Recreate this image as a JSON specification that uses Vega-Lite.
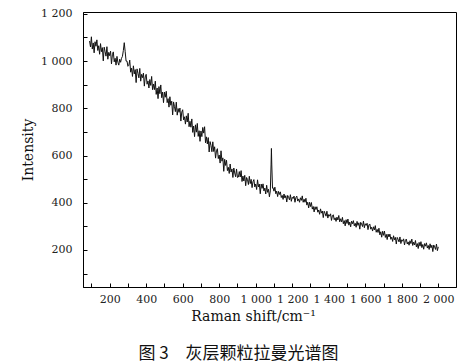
{
"$schema":"https://vega.github.io/schema/vega-lite/v6.json",
"width":373,"height":275,
"autosize":{"type":"none"},
"padding":{"left":83,"top":12,"right":12,"bottom":76},
"background":"white",
"title":{"text":"图 3　灰层颗粒拉曼光谱图","orient":"bottom","anchor":"middle","dx":-31,"offset":23,"font":"Noto Sans CJK SC","fontSize":17,"fontWeight":"normal","color":"#111"},
"data":{"values":[
{"shift":90,"intensity":1085},{"shift":95,"intensity":1060},{"shift":100,"intensity":1103},{"shift":105,"intensity":1051},{"shift":110,"intensity":1077},{"shift":115,"intensity":1035},{"shift":120,"intensity":1082},{"shift":125,"intensity":1063},{"shift":130,"intensity":1090},{"shift":135,"intensity":1045},{"shift":140,"intensity":1065},{"shift":145,"intensity":1029},{"shift":150,"intensity":1074},{"shift":155,"intensity":1040},{"shift":160,"intensity":1057},{"shift":165,"intensity":1001},{"shift":170,"intensity":1059},{"shift":175,"intensity":1040},{"shift":180,"intensity":1021},{"shift":185,"intensity":1061},{"shift":190,"intensity":1008},{"shift":195,"intensity":1037},{"shift":200,"intensity":1023},{"shift":205,"intensity":1042},{"shift":210,"intensity":988},{"shift":215,"intensity":1027},{"shift":220,"intensity":1039},{"shift":225,"intensity":997},{"shift":230,"intensity":1012},{"shift":235,"intensity":983},{"shift":240,"intensity":1020},{"shift":245,"intensity":995},{"shift":250,"intensity":983},{"shift":255,"intensity":1008},{"shift":260,"intensity":995},{"shift":265,"intensity":1012},{"shift":270,"intensity":1020},{"shift":275,"intensity":1045},{"shift":280,"intensity":1078},{"shift":285,"intensity":1040},{"shift":290,"intensity":1000},{"shift":295,"intensity":1000},{"shift":300,"intensity":978},
{"shift":305,"intensity":982},{"shift":310,"intensity":1004},{"shift":315,"intensity":953},{"shift":320,"intensity":970},{"shift":325,"intensity":935},{"shift":330,"intensity":980},{"shift":335,"intensity":946},{"shift":340,"intensity":964},{"shift":345,"intensity":909},{"shift":350,"intensity":967},{"shift":355,"intensity":948},{"shift":360,"intensity":929},{"shift":365,"intensity":969},{"shift":370,"intensity":915},{"shift":375,"intensity":944},{"shift":380,"intensity":930},{"shift":385,"intensity":949},{"shift":390,"intensity":894},{"shift":395,"intensity":933},{"shift":400,"intensity":944},{"shift":405,"intensity":902},{"shift":410,"intensity":916},{"shift":415,"intensity":886},{"shift":420,"intensity":922},{"shift":425,"intensity":897},{"shift":430,"intensity":935},{"shift":435,"intensity":879},{"shift":440,"intensity":903},{"shift":445,"intensity":879},{"shift":450,"intensity":915},{"shift":455,"intensity":859},{"shift":460,"intensity":886},{"shift":465,"intensity":841},{"shift":470,"intensity":892},{"shift":475,"intensity":862},{"shift":480,"intensity":899},{"shift":485,"intensity":845},{"shift":490,"intensity":869},{"shift":495,"intensity":824},{"shift":500,"intensity":869},
{"shift":505,"intensity":847},{"shift":510,"intensity":872},{"shift":515,"intensity":824},{"shift":520,"intensity":841},{"shift":525,"intensity":805},{"shift":530,"intensity":849},{"shift":535,"intensity":813},{"shift":540,"intensity":830},{"shift":545,"intensity":772},{"shift":550,"intensity":827},{"shift":555,"intensity":807},{"shift":560,"intensity":786},{"shift":565,"intensity":826},{"shift":570,"intensity":771},{"shift":575,"intensity":799},{"shift":580,"intensity":783},{"shift":585,"intensity":801},{"shift":590,"intensity":746},{"shift":595,"intensity":784},{"shift":600,"intensity":794},{"shift":605,"intensity":751},{"shift":610,"intensity":764},{"shift":615,"intensity":733},{"shift":620,"intensity":768},{"shift":625,"intensity":742},{"shift":630,"intensity":779},{"shift":635,"intensity":722},{"shift":640,"intensity":745},{"shift":645,"intensity":720},{"shift":650,"intensity":755},{"shift":655,"intensity":698},{"shift":660,"intensity":725},{"shift":665,"intensity":680},{"shift":670,"intensity":730},{"shift":675,"intensity":699},{"shift":680,"intensity":736},{"shift":685,"intensity":681},{"shift":690,"intensity":705},{"shift":695,"intensity":660},{"shift":700,"intensity":704},
{"shift":705,"intensity":680},{"shift":710,"intensity":719},{"shift":715,"intensity":695},{"shift":720,"intensity":722},{"shift":725,"intensity":654},{"shift":730,"intensity":679},{"shift":735,"intensity":649},{"shift":740,"intensity":676},{"shift":745,"intensity":615},{"shift":750,"intensity":659},{"shift":755,"intensity":643},{"shift":760,"intensity":616},{"shift":765,"intensity":658},{"shift":770,"intensity":617},{"shift":775,"intensity":637},{"shift":780,"intensity":589},{"shift":785,"intensity":620},{"shift":790,"intensity":629},{"shift":795,"intensity":587},{"shift":800,"intensity":602},{"shift":805,"intensity":568},{"shift":810,"intensity":620},{"shift":815,"intensity":576},{"shift":820,"intensity":590},{"shift":825,"intensity":533},{"shift":830,"intensity":584},{"shift":835,"intensity":558},{"shift":840,"intensity":580},{"shift":845,"intensity":536},{"shift":850,"intensity":550},{"shift":855,"intensity":524},{"shift":860,"intensity":564},{"shift":865,"intensity":530},{"shift":870,"intensity":543},{"shift":875,"intensity":507},{"shift":880,"intensity":547},{"shift":885,"intensity":526},{"shift":890,"intensity":510},{"shift":895,"intensity":543},{"shift":900,"intensity":507},
{"shift":905,"intensity":509},{"shift":910,"intensity":532},{"shift":915,"intensity":509},{"shift":920,"intensity":536},{"shift":925,"intensity":490},{"shift":930,"intensity":513},{"shift":935,"intensity":492},{"shift":940,"intensity":516},{"shift":945,"intensity":472},{"shift":950,"intensity":507},{"shift":955,"intensity":498},{"shift":960,"intensity":477},{"shift":965,"intensity":512},{"shift":970,"intensity":481},{"shift":975,"intensity":499},{"shift":980,"intensity":464},{"shift":985,"intensity":489},{"shift":990,"intensity":498},{"shift":995,"intensity":467},{"shift":1000,"intensity":479},{"shift":1005,"intensity":456},{"shift":1010,"intensity":497},{"shift":1015,"intensity":467},{"shift":1020,"intensity":479},{"shift":1025,"intensity":438},{"shift":1030,"intensity":479},{"shift":1035,"intensity":461},{"shift":1040,"intensity":480},{"shift":1045,"intensity":450},{"shift":1050,"intensity":462},{"shift":1055,"intensity":437},{"shift":1060,"intensity":474},{"shift":1065,"intensity":444},{"shift":1070,"intensity":457},{"shift":1075,"intensity":425},{"shift":1080,"intensity":450},{"shift":1084,"intensity":560},{"shift":1086,"intensity":630},{"shift":1088,"intensity":560},{"shift":1092,"intensity":462},
{"shift":1095,"intensity":464},{"shift":1100,"intensity":449},{"shift":1105,"intensity":466},{"shift":1110,"intensity":438},{"shift":1115,"intensity":449},{"shift":1120,"intensity":426},{"shift":1125,"intensity":448},{"shift":1130,"intensity":435},{"shift":1135,"intensity":446},{"shift":1140,"intensity":422},{"shift":1145,"intensity":431},{"shift":1150,"intensity":414},{"shift":1155,"intensity":437},{"shift":1160,"intensity":420},{"shift":1165,"intensity":430},{"shift":1170,"intensity":403},{"shift":1175,"intensity":431},{"shift":1180,"intensity":423},{"shift":1185,"intensity":412},{"shift":1190,"intensity":434},{"shift":1195,"intensity":406},{"shift":1200,"intensity":423},{"shift":1205,"intensity":418},{"shift":1210,"intensity":428},{"shift":1215,"intensity":402},{"shift":1220,"intensity":422},{"shift":1225,"intensity":428},{"shift":1230,"intensity":407},{"shift":1235,"intensity":416},{"shift":1240,"intensity":402},{"shift":1245,"intensity":421},{"shift":1250,"intensity":410},{"shift":1255,"intensity":429},{"shift":1260,"intensity":402},{"shift":1265,"intensity":415},{"shift":1270,"intensity":402},{"shift":1275,"intensity":419},{"shift":1280,"intensity":390},{"shift":1285,"intensity":402},{"shift":1290,"intensity":378},{"shift":1295,"intensity":402},{"shift":1300,"intensity":384},
{"shift":1305,"intensity":401},{"shift":1310,"intensity":373},{"shift":1315,"intensity":384},{"shift":1320,"intensity":361},{"shift":1325,"intensity":383},{"shift":1330,"intensity":371},{"shift":1335,"intensity":383},{"shift":1340,"intensity":360},{"shift":1345,"intensity":369},{"shift":1350,"intensity":351},{"shift":1355,"intensity":374},{"shift":1360,"intensity":356},{"shift":1365,"intensity":365},{"shift":1370,"intensity":337},{"shift":1375,"intensity":364},{"shift":1380,"intensity":355},{"shift":1385,"intensity":343},{"shift":1390,"intensity":364},{"shift":1395,"intensity":335},{"shift":1400,"intensity":350},{"shift":1405,"intensity":343},{"shift":1410,"intensity":353},{"shift":1415,"intensity":325},{"shift":1420,"intensity":345},{"shift":1425,"intensity":349},{"shift":1430,"intensity":328},{"shift":1435,"intensity":336},{"shift":1440,"intensity":321},{"shift":1445,"intensity":339},{"shift":1450,"intensity":327},{"shift":1455,"intensity":346},{"shift":1460,"intensity":319},{"shift":1465,"intensity":332},{"shift":1470,"intensity":319},{"shift":1475,"intensity":338},{"shift":1480,"intensity":311},{"shift":1485,"intensity":324},{"shift":1490,"intensity":302},{"shift":1495,"intensity":328},{"shift":1500,"intensity":312},
{"shift":1505,"intensity":331},{"shift":1510,"intensity":305},{"shift":1515,"intensity":318},{"shift":1520,"intensity":298},{"shift":1525,"intensity":322},{"shift":1530,"intensity":311},{"shift":1535,"intensity":324},{"shift":1540,"intensity":302},{"shift":1545,"intensity":313},{"shift":1550,"intensity":296},{"shift":1555,"intensity":321},{"shift":1560,"intensity":304},{"shift":1565,"intensity":315},{"shift":1570,"intensity":288},{"shift":1575,"intensity":317},{"shift":1580,"intensity":310},{"shift":1585,"intensity":299},{"shift":1590,"intensity":322},{"shift":1595,"intensity":294},{"shift":1600,"intensity":311},{"shift":1605,"intensity":304},{"shift":1610,"intensity":313},{"shift":1615,"intensity":286},{"shift":1620,"intensity":306},{"shift":1625,"intensity":310},{"shift":1630,"intensity":288},{"shift":1635,"intensity":296},{"shift":1640,"intensity":280},{"shift":1645,"intensity":298},{"shift":1650,"intensity":285},{"shift":1655,"intensity":303},{"shift":1660,"intensity":275},{"shift":1665,"intensity":287},{"shift":1670,"intensity":274},{"shift":1675,"intensity":292},{"shift":1680,"intensity":264},{"shift":1685,"intensity":277},{"shift":1690,"intensity":254},{"shift":1695,"intensity":279},{"shift":1700,"intensity":262},
{"shift":1705,"intensity":280},{"shift":1710,"intensity":253},{"shift":1715,"intensity":266},{"shift":1720,"intensity":244},{"shift":1725,"intensity":267},{"shift":1730,"intensity":255},{"shift":1735,"intensity":267},{"shift":1740,"intensity":245},{"shift":1745,"intensity":254},{"shift":1750,"intensity":236},{"shift":1755,"intensity":260},{"shift":1760,"intensity":243},{"shift":1765,"intensity":253},{"shift":1770,"intensity":225},{"shift":1775,"intensity":253},{"shift":1780,"intensity":245},{"shift":1785,"intensity":234},{"shift":1790,"intensity":255},{"shift":1795,"intensity":227},{"shift":1800,"intensity":243},{"shift":1805,"intensity":237},{"shift":1810,"intensity":247},{"shift":1815,"intensity":221},{"shift":1820,"intensity":241},{"shift":1825,"intensity":246},{"shift":1830,"intensity":225},{"shift":1835,"intensity":234},{"shift":1840,"intensity":220},{"shift":1845,"intensity":239},{"shift":1850,"intensity":227},{"shift":1855,"intensity":246},{"shift":1860,"intensity":219},{"shift":1865,"intensity":233},{"shift":1870,"intensity":221},{"shift":1875,"intensity":240},{"shift":1880,"intensity":213},{"shift":1885,"intensity":227},{"shift":1890,"intensity":206},{"shift":1895,"intensity":232},{"shift":1900,"intensity":216},
{"shift":1905,"intensity":235},{"shift":1910,"intensity":210},{"shift":1915,"intensity":223},{"shift":1920,"intensity":203},{"shift":1925,"intensity":227},{"shift":1930,"intensity":216},{"shift":1935,"intensity":230},{"shift":1940,"intensity":208},{"shift":1945,"intensity":219},{"shift":1950,"intensity":202},{"shift":1955,"intensity":226},{"shift":1960,"intensity":209},{"shift":1965,"intensity":220},{"shift":1970,"intensity":193},{"shift":1975,"intensity":221},{"shift":1980,"intensity":213},{"shift":1985,"intensity":202},{"shift":1990,"intensity":225},{"shift":1995,"intensity":197},{"shift":2000,"intensity":213}
]},
"mark":{"type":"line","color":"#111","strokeWidth":1,"clip":true},
"encoding":{
"x":{"field":"shift","type":"quantitative","scale":{"domain":[54,2097],"nice":false,"zero":false},
"axis":{"title":"Raman shift/cm⁻¹","values":[100,200,300,400,500,600,700,800,900,1000,1100,1200,1300,1400,1500,1600,1700,1800,1900,2000],
"labelExpr":"datum.value % 200 != 0 ? '' : (datum.value >= 1000 ? floor(datum.value/1000) + ' ' + format(datum.value % 1000, '03d') : format(datum.value, 'd'))",
"labelOverlap":false,"tickSize":-4,"labelPadding":10,"titlePadding":5,"titleX":170,
"encode":{"labels":{"update":{"dx":{"signal":"3 - 0.0085*(datum.value-200)"}}}}}},
"y":{"field":"intensity","type":"quantitative","scale":{"domain":[43,1208],"nice":false,"zero":false},
"axis":{"title":"Intensity","values":[100,200,300,400,500,600,700,800,900,1000,1100,1200],
"labelExpr":"datum.value % 200 != 0 ? '' : (datum.value >= 1000 ? floor(datum.value/1000) + ' ' + format(datum.value % 1000, '03d') : format(datum.value, 'd'))",
"labelOverlap":false,"tickSize":-4,"labelPadding":15,"titlePadding":5}}
},
"config":{
"font":"DejaVu Serif",
"view":{"stroke":"#000","strokeWidth":1},
"axis":{"grid":false,"domainColor":"#000","domainWidth":1,"tickColor":"#000","tickWidth":1,"labelFont":"DejaVu Serif","labelFontSize":11,"labelColor":"#222","titleFont":"DejaVu Serif","titleFontSize":14,"titleFontWeight":"normal","titleColor":"#111"}
}
}
